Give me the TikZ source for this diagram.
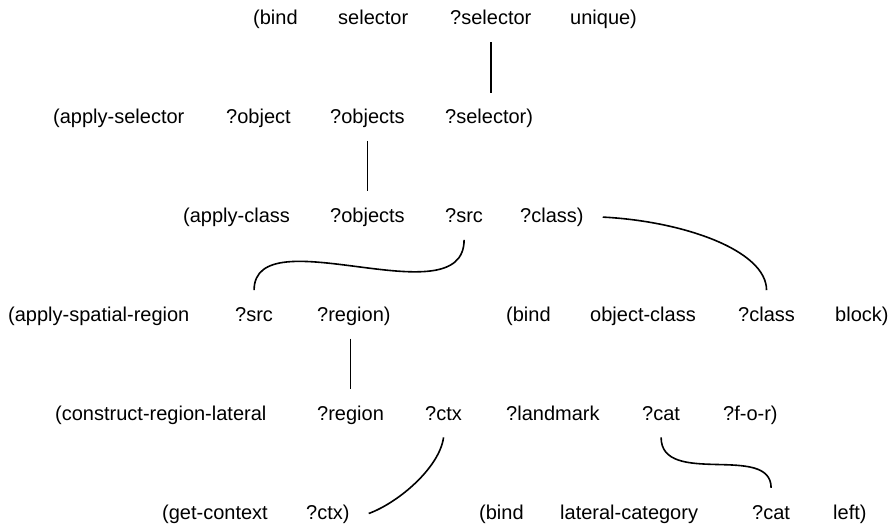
\documentclass[tikz,border=0pt]{standalone}
\usepackage{fontspec}
\setmainfont{Liberation Sans}
\begin{document}
\begin{tikzpicture}[x=1pt,y=-1pt,
  w/.style={anchor=base west, inner sep=0pt, text height=15pt, text depth=4pt,
            font=\fontsize{20}{24}\selectfont},
  link/.style={line width=1.6pt},
  vlink/.style={link, shorten <=13pt, shorten >=16pt}]
\useasboundingbox (0,0) rectangle (894,526);
% row 1
\node[w] (r1a) at (253,25) {(bind};
\node[w] (r1b) at (338,25) {selector};
\node[w] (r1c) at (450,25) {?selector};
\node[w] (r1d) at (570,25) {unique)};
% row 2
\node[w] (r2a) at (53,123.8) {(apply-selector};
\node[w] (r2b) at (226,123.8) {?object};
\node[w] (r2c) at (330,123.8) {?objects};
\node[w] (r2d) at (445,123.8) {?selector)};
% row 3
\node[w] (r3a) at (183,222.6) {(apply-class};
\node[w] (r3b) at (330,222.6) {?objects};
\node[w] (r3c) at (445,222.6) {?src};
\node[w] (r3d) at (520,222.6) {?class)};
% row 4
\node[w] (r4a) at (8,321.4) {(apply-spatial-region};
\node[w] (r4b) at (235,321.4) {?src};
\node[w] (r4c) at (317,321.4) {?region)};
\node[w] (r4d) at (506,321.4) {(bind};
\node[w] (r4e) at (590,321.4) {object-class};
\node[w] (r4f) at (738,321.4) {?class};
\node[w] (r4g) at (835,321.4) {block)};
% row 5
\node[w] (r5a) at (55,420.2) {(construct-region-lateral};
\node[w] (r5b) at (317,420.2) {?region};
\node[w] (r5c) at (425,420.2) {?ctx};
\node[w] (r5d) at (506,420.2) {?landmark};
\node[w] (r5e) at (642,420.2) {?cat};
\node[w] (r5f) at (723,420.2) {?f-o-r)};
% row 6
\node[w] (r6a) at (162,519) {(get-context};
\node[w] (r6b) at (306,519) {?ctx)};
\node[w] (r6c) at (479,519) {(bind};
\node[w] (r6d) at (560,519) {lateral-category};
\node[w] (r6e) at (752,519) {?cat};
\node[w] (r6f) at (833,519) {left)};
% connectors
\draw[vlink] (r1c.south) -- (r1c.south |- r2d.north);
\draw[vlink] (r2c.south) -- (r3b.north);
\draw[vlink] (r4c.south -| r5b.north) -- (r5b.north);
\draw[link] ([yshift=-13pt]r3c.south) .. controls +(0,80) and +(0,-75) .. ([yshift=16pt]r4b.north);
\draw[link] ([xshift=19pt]r3d.east) .. controls +(80,4) and +(0,-40) .. ([yshift=16pt]r4f.north);
\draw[link] ([yshift=-13pt]r5c.south) .. controls +(-4,30) and +(30,-11) .. ([xshift=19pt]r6b.east);
\draw[link] ([yshift=-13pt]r5e.south) .. controls +(0,50) and +(0,-45) .. ([yshift=16pt]r6e.north);
\end{tikzpicture}
\end{document}
